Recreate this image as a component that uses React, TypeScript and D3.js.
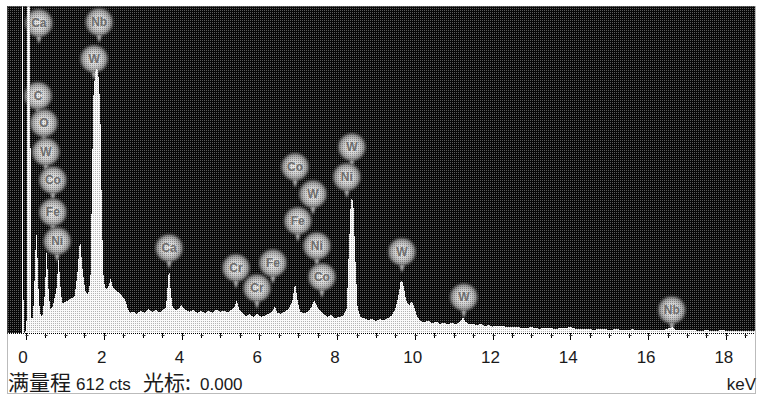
import React from "react";
import * as d3 from "d3";

// Spectrum points: energy (keV) and counts
const energyKeV = [
  -0.49, -0.15, -0.115, -0.103, -0.077, -0.064, -0.02, 0.013, 0.026, 0.1, 0.13,
  0.18, 0.23, 0.26, 0.29, 0.33, 0.38,
  0.42, 0.48, 0.53, 0.57, 0.62,
  0.68, 0.78, 0.84, 0.88, 0.93,
  1.0, 1.1, 1.2,
  1.25, 1.32, 1.39, 1.45, 1.52, 1.58, 1.62,
  1.66, 1.7, 1.73, 1.78, 1.83, 1.88, 1.92, 1.95, 1.99, 2.03, 2.08, 2.13, 2.18, 2.22, 2.3, 2.38, 2.46, 2.55, 2.62, 2.68,
  2.75, 2.85, 2.95, 3.05, 3.15, 3.25, 3.35, 3.45, 3.55,
  3.6, 3.64, 3.68, 3.72, 3.77,
  3.85, 3.93, 4.0, 4.08, 4.2, 4.3, 4.4, 4.5, 4.6, 4.7, 4.8, 4.9, 5.0, 5.1, 5.2, 5.3,
  5.36, 5.42, 5.48, 5.55, 5.65, 5.75, 5.85, 5.95, 6.05, 6.15, 6.25,
  6.35, 6.4, 6.46, 6.55, 6.65, 6.75,
  6.85, 6.92, 6.98, 7.05, 7.15, 7.25,
  7.34, 7.41, 7.48, 7.55, 7.65, 7.75, 7.85, 7.95, 8.05, 8.15,
  8.25, 8.3, 8.35, 8.38, 8.42, 8.47, 8.53, 8.6, 8.7, 8.8, 8.9, 9.0, 9.1, 9.2, 9.3, 9.4, 9.5,
  9.58, 9.63, 9.67, 9.72, 9.78, 9.85, 9.92, 9.98, 10.05, 10.15, 10.25, 10.35, 10.45, 10.55, 10.65, 10.75, 10.85, 10.95, 11.05, 11.15,
  11.2, 11.24, 11.29, 11.4, 11.5, 11.6, 11.7, 11.8, 11.9, 12.0, 12.2, 12.4, 12.6, 12.8, 13.0, 13.2, 13.4, 13.6, 13.8, 14.0,
  14.2, 14.4, 14.6, 14.8, 15.0, 15.2, 15.4, 15.6, 15.8, 16.0, 16.2, 16.4, 16.55, 16.62, 16.7, 16.9, 17.1, 17.3, 17.5, 17.7,
  17.9, 18.1, 18.3, 18.5, 18.75,
];
const countsCts = [
  0, 0, 0, 660, 660, 0, 0, 24, 660, 660, 28,
  28, 120, 198, 150, 60, 30,
  32, 70, 155, 90, 45,
  48, 80, 142, 90, 55,
  58, 62, 66,
  70, 110, 178, 120, 80, 72, 78,
  110, 300, 440, 490, 496, 470, 380, 220, 110, 85, 82, 90, 102, 88, 80, 76, 70, 62, 45, 38,
  40, 36, 42, 38, 44, 40, 43, 38, 45,
  48, 85, 124, 80, 48,
  42, 46, 52, 44, 40, 43, 38, 41, 37, 42, 38, 44, 40, 42, 38, 45,
  48, 62, 45, 38, 32, 35, 30, 36, 30, 33, 36,
  42, 50, 38, 36, 40, 45,
  60, 94, 62, 40, 36, 40,
  48, 62, 50, 42, 36, 30, 34, 28, 30, 32,
  45, 150, 240, 255, 240, 140, 45, 30, 28, 24, 27, 22, 26, 24, 28, 32, 45,
  70, 95, 99, 85, 60, 52, 58, 50, 32, 22, 20, 23, 18, 21, 17, 20, 16, 19, 17, 20,
  24, 30, 22, 16, 18, 14, 17, 13, 15, 12, 14, 11, 12, 9, 11, 8, 10, 8, 9, 11,
  7, 8, 6, 8, 6, 7, 5, 7, 5, 6, 5, 6, 9, 11, 6, 5, 6, 4, 5, 4,
  5, 4, 4, 3, 3,
];

// Element markers
const markerElements = ["Ca", "C", "O", "W", "Co", "Fe", "Ni", "Nb", "W", "Ca", "Cr", "Cr", "Fe", "Co", "W", "Fe", "Ni", "Co", "W", "Ni", "W", "W", "Nb"];
const markerKeV = [0.33, 0.31, 0.46, 0.51, 0.69, 0.69, 0.8, 1.88, 1.75, 3.68, 5.4, 5.94, 6.35, 6.92, 7.38, 6.99, 7.48, 7.61, 8.38, 8.25, 9.67, 11.26, 16.61];
const markerCts = [580, 444, 393, 339, 286, 226, 172, 582, 513, 159, 122, 84, 131, 311, 260, 210, 163, 105, 348, 292, 152, 67, 43];

const tickLabels = [0, 2, 4, 6, 8, 10, 12, 14, 16, 18];
const fullScale = 612;

export default function App() {
  const W = 757, H = 396;
  const left = 7, right = 755, top = 6, bottom = 333;
  const x = d3.scaleLinear().domain([-0.49, 18.75]).range([left, right]);
  const y = d3.scaleLinear().domain([0, fullScale]).range([bottom, top]);

  const pts = energyKeV.map((e, i) => [e, countsCts[i]] as [number, number]);
  const area = d3.area<[number, number]>().x((d) => x(d[0])).y0(bottom).y1((d) => y(d[1]));

  const minorTicks = d3.range(0, 18.51, 0.5);
  const r = 14;

  return (
    <svg width={W} height={H} style={{ position: "absolute", left: 0, top: 0, background: "#fff" }}>
      <defs>
        <pattern id="dark" width="2" height="2" patternUnits="userSpaceOnUse">
          <rect width="2" height="2" fill="#070707" />
          <rect width="1" height="1" fill="#5c5c5c" />
        </pattern>
        <pattern id="light" width="2" height="2" patternUnits="userSpaceOnUse">
          <rect width="2" height="2" fill="#fbfbfb" />
          <rect x="1" y="1" width="1" height="1" fill="#b4b4b4" />
        </pattern>
        <pattern id="dots" width="2" height="2" patternUnits="userSpaceOnUse">
          <rect width="1" height="1" fill="#000" />
        </pattern>
        <radialGradient id="ball" cx="50%" cy="50%" r="50%">
          <stop offset="0%" stopColor="#ececec" />
          <stop offset="55%" stopColor="#cfcfcf" />
          <stop offset="85%" stopColor="#9a9a9a" />
          <stop offset="100%" stopColor="#505050" />
        </radialGradient>
        <filter id="soft" x="-20%" y="-20%" width="140%" height="140%">
          <feGaussianBlur stdDeviation="0.9" />
        </filter>
        <clipPath id="plotClip">
          <rect x={left} y={top} width={right - left} height={bottom - top} />
        </clipPath>
      </defs>

      <rect x={left} y={top} width={right - left} height={bottom - top} fill="url(#dark)" shapeRendering="crispEdges" />

      <g>
        {markerElements.map((el, i) => {
          const cx = x(markerKeV[i]);
          const cy = y(markerCts[i]);
          return (
            <g key={i}>
              <g filter="url(#soft)">
                <path d={`M${cx - 3},${cy + r - 3} L${cx + 3},${cy + r - 3} L${cx},${cy + r + 7} Z`} fill="#c4c4c4" />
                <circle cx={cx} cy={cy} r={r} fill="url(#ball)" />
              </g>
              <circle cx={cx} cy={cy} r={r} fill="url(#dots)" opacity={0.3} />
              <text x={cx} y={cy + 4} textAnchor="middle" fontFamily="Liberation Sans, Arial, sans-serif" fontSize={12} fontWeight="bold" fill="#6e6e6e">
                {el}
              </text>
            </g>
          );
        })}
      </g>

      <path d={area(pts) || ""} fill="url(#light)" clipPath="url(#plotClip)" shapeRendering="crispEdges" />

      <line x1={left} x2={right} y1={bottom + 0.5} y2={bottom + 0.5} stroke="#000" strokeWidth={1} strokeDasharray="1,1" />
      {minorTicks.map((t) => {
        const major = Math.abs(t - Math.round(t / 2) * 2) < 1e-6;
        const tx = Math.round(x(t)) + 0.5;
        return (
          <g key={t}>
            <line x1={tx} x2={tx} y1={bottom} y2={bottom + (major ? 7 : 5)} stroke="#000" strokeWidth={1} />
            <line x1={tx - 1} x2={tx + 2} y1={bottom + 2.5} y2={bottom + 2.5} stroke="#333" strokeWidth={1} />
          </g>
        );
      })}
      {tickLabels.map((t) => (
        <text key={t} x={x(t) - (t === 0 ? 3 : 2)} y={363} textAnchor="middle" fontFamily="Liberation Sans, Arial, sans-serif" fontSize={17} fill="#1a1a1a">
          {t}
        </text>
      ))}

      <text y={390} fontFamily="Liberation Sans, Arial, sans-serif" fontSize={17} fill="#1a1a1a">
        <tspan x={8} fontFamily="Noto Sans CJK SC, sans-serif" fontSize={21}>满量程</tspan>
        <tspan x={76}>{`${fullScale} cts`}</tspan>
        <tspan x={143} fontFamily="Noto Sans CJK SC, sans-serif" fontSize={21}>光标:</tspan>
        <tspan x={200}>0.000</tspan>
      </text>
      <text x={756} y={390} textAnchor="end" fontFamily="Liberation Sans, Arial, sans-serif" fontSize={17} fill="#1a1a1a">keV</text>

      <rect x={7.5} y={6.5} width={748} height={387} fill="none" stroke="#777" strokeWidth={1} strokeDasharray="1,1" />
    </svg>
  );
}
